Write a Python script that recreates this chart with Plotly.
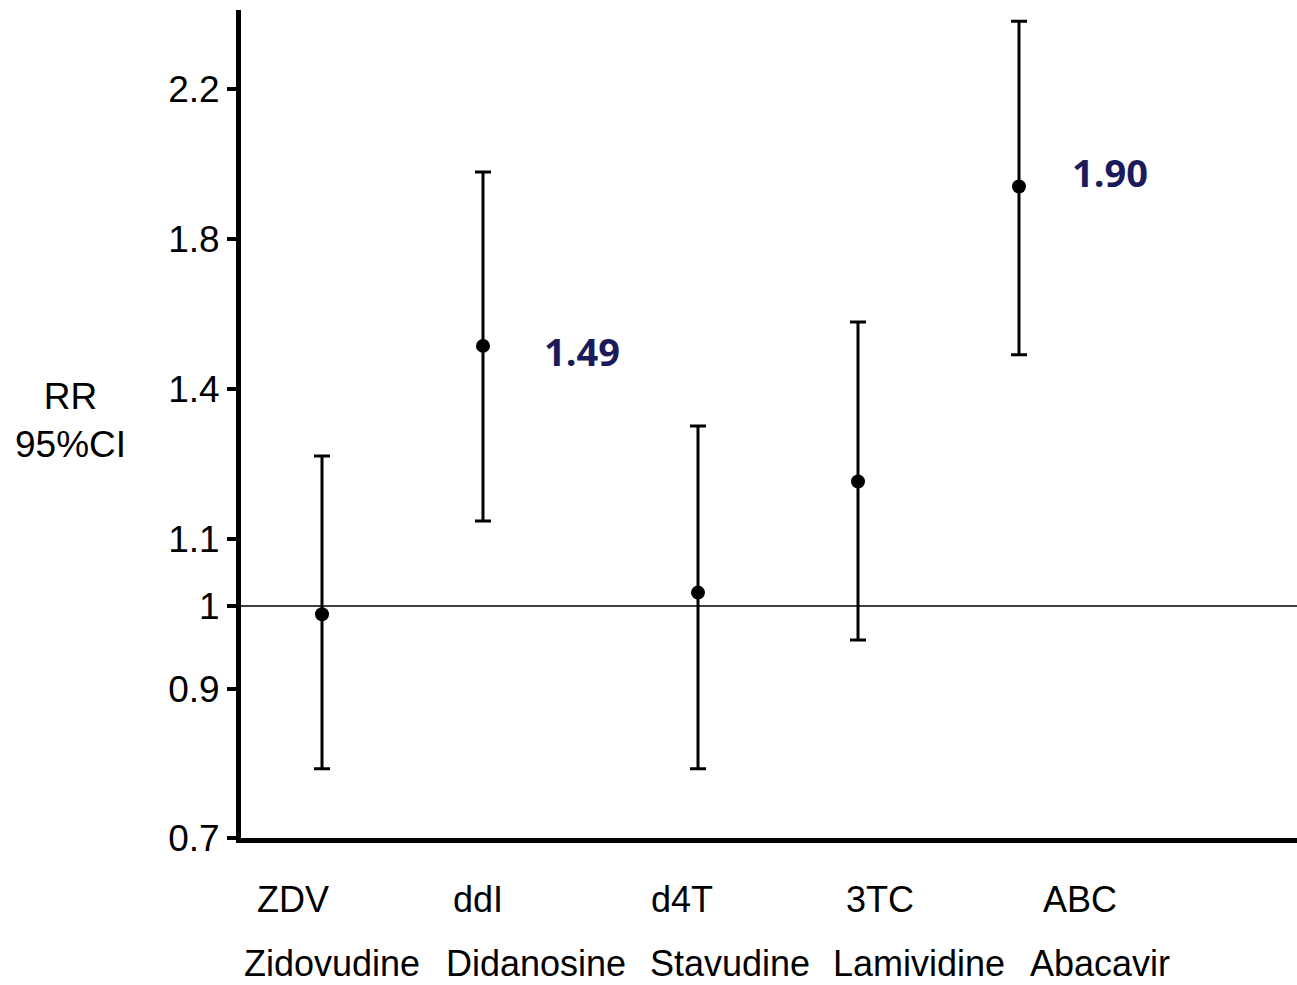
import numpy as np
import plotly.graph_objects as go

# ---- data ----
abbrev = ["ZDV", "ddI", "d4T", "3TC", "ABC"]
names = ["Zidovudine", "Didanosine", "Stavudine", "Lamividine", "Abacavir"]
rr = [0.99, 1.515, 1.02, 1.215, 1.94]
ci_low = [0.793, 1.136, 0.793, 0.959, 1.491]
ci_high = [1.266, 1.979, 1.326, 1.579, 2.381]
value_labels = {"ddI": "1.49", "ABC": "1.90"}

# y tick labels of the (hand-made, non-uniform) value axis
tick_labels = [0.7, 0.9, 1, 1.1, 1.4, 1.8, 2.2]

# ---- layout constants ----
W, H = 1297, 985
ML, MR, MT, MB = 241, 0, 10, 147
PW, PH = W - ML - MR, H - MT - MB
tick_disp = [0, 149, 232, 299, 449, 599, 749]   # display position of each tick label
x_pos = [81, 242, 457, 617, 778]                # display x of each drug
abbrev_x = [52, 237, 441, 639, 839]
name_x = [91, 295, 489, 678, 859]
label_offset = {"ddI": (99, -5), "ABC": (91, 15)}


def to_disp(v):
    v = np.asarray(v, dtype=float)
    out = np.interp(v, tick_labels, tick_disp)
    hi = v > tick_labels[-1]
    slope = (tick_disp[-1] - tick_disp[-2]) / (tick_labels[-1] - tick_labels[-2])
    out[hi] = tick_disp[-1] + (v[hi] - tick_labels[-1]) * slope
    lo = v < tick_labels[0]
    slope0 = (tick_disp[1] - tick_disp[0]) / (tick_labels[1] - tick_labels[0])
    out[lo] = tick_disp[0] + (v[lo] - tick_labels[0]) * slope0
    return out


y = to_disp(rr)
yl = to_disp(ci_low)
yh = to_disp(ci_high)

fig = go.Figure()
fig.add_trace(go.Scatter(
    x=x_pos, y=y, mode="markers",
    marker=dict(color="black", size=14),
    error_y=dict(type="data", symmetric=False, array=yh - y, arrayminus=y - yl,
                 color="black", thickness=3, width=8),
    showlegend=False, hoverinfo="skip",
))

# reference line at RR = 1
y_one = float(to_disp([1])[0])
fig.add_shape(type="line", xref="paper", x0=0, x1=1, yref="y", y0=y_one, y1=y_one,
              line=dict(color="black", width=1.5), layer="below")

font_main = dict(family="Liberation Sans, Arial, sans-serif", size=37, color="black")
font_bottom = dict(family="Liberation Sans, Arial, sans-serif", size=36, color="black")

annotations = []
for a, xa in zip(abbrev, abbrev_x):
    annotations.append(dict(text=a, x=xa / PW, xref="paper", y=-62 / PH, yref="paper",
                            showarrow=False, font=font_bottom,
                            xanchor="center", yanchor="middle"))
for n, xn in zip(names, name_x):
    annotations.append(dict(text=n, x=xn / PW, xref="paper", y=-125 / PH, yref="paper",
                            showarrow=False, font=font_bottom,
                            xanchor="center", yanchor="middle"))
for a, xp, yp in zip(abbrev, x_pos, y):
    if a in value_labels:
        dx, dy = label_offset[a]
        annotations.append(dict(text=value_labels[a], x=xp + dx, xref="x", y=yp + dy, yref="y",
                                showarrow=False, xanchor="center", yanchor="middle",
                                font=dict(family="Open Sans, sans-serif", size=38,
                                          color="#1b1a5a", weight="bold")))
annotations.append(dict(text="RR<br>95%CI", xref="paper", x=-171 / PW,
                        yref="paper", y=418 / PH, showarrow=False, xanchor="center",
                        yanchor="middle", font=font_main, align="center"))

fig.update_layout(
    width=W, height=H,
    margin=dict(l=ML, r=MR, t=MT, b=MB),
    paper_bgcolor="white", plot_bgcolor="white",
    annotations=annotations,
    xaxis=dict(range=[0, PW], showgrid=False, zeroline=False,
               showticklabels=False, ticks="", showline=True, linecolor="black",
               linewidth=5),
    yaxis=dict(range=[0, PH], showgrid=False, zeroline=False,
               tickmode="array", tickvals=tick_disp,
               ticktext=[str(t) for t in tick_labels],
               ticks="outside", ticklen=9, tickwidth=4, tickcolor="black",
               showline=True, linecolor="black", linewidth=5,
               tickfont=font_main),
)

fig.write_html("out.html", config={"displayModeBar": False},
               post_script="document.body.style.margin='0';document.body.style.overflow='hidden';")
